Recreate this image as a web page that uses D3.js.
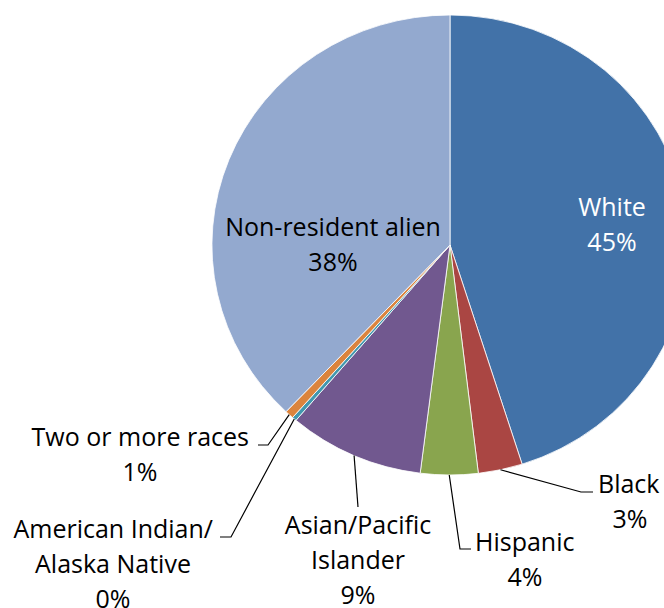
<!DOCTYPE html>
<html>
<head>
<meta charset="utf-8">
<script src="https://cdn.jsdelivr.net/npm/d3@7"></script>
<style>
  body { margin: 0; background: #fff; }
  svg text { font-family: "Open Sans", "Noto Sans", sans-serif; }
</style>
</head>
<body>
<svg id="chart"></svg>
<script>
// data (share of total, %)
const categories = ["White", "Black", "Hispanic", "Asian/Pacific Islander",
    "American Indian/ Alaska Native", "Two or more races", "Non-resident alien"];
const values = [45.1, 3.0, 3.9, 9.2, 0.3, 0.6, 37.9];
const percentLabels = ["45%", "3%", "4%", "9%", "0%", "1%", "38%"];
const labelLines = [
    ["White"], ["Black"], ["Hispanic"], ["Asian/Pacific", "Islander"],
    ["American Indian/", "Alaska Native"], ["Two or more races"], ["Non-resident alien"]
];
const colors = ["#4272A8", "#AA4643", "#89A54E", "#71588F", "#4198AF", "#DB843D", "#93A9CF"];

const width = 664, height = 608;
const cx = 450, cy = 245, radius = 230, stretchX = 1.035;
const fontSize = 25, lineH = 35;

const svg = d3.select("#chart").attr("width", width).attr("height", height);

const pie = d3.pie().sort(null).value(d => d.value);
const arcs = pie(categories.map((c, i) => ({name: c, value: values[i], i: i})));
const arc = d3.arc().innerRadius(0).outerRadius(radius);

const pieG = svg.append("g")
    .attr("transform", `translate(${cx},${cy}) scale(${stretchX},1)`);

pieG.selectAll("path")
    .data(arcs)
    .enter()
    .append("path")
    .attr("d", arc)
    .attr("fill", d => colors[d.data.i])
    .attr("stroke", "#fff")
    .attr("stroke-width", 0.8)
    .attr("vector-effect", "non-scaling-stroke");

// point on the rim at the middle of a slice, in page coords
function rimPoint(d) {
    const a = (d.startAngle + d.endAngle) / 2;
    return [cx + Math.sin(a) * radius * stretchX, cy - Math.cos(a) * radius];
}

// label layout: inside labels get a centre, outside labels get leader + text anchor
const layout = [
    {type: "in", x: 612, y: 216, fill: "#fff"},
    {type: "out", bend: [581, 492], end: [593, 492], x: 630, y: 493, anchor: "middle", firstAnchor: "start", firstX: 598},
    {type: "out", bend: [460, 549], end: [471, 549], x: 525, y: 551, anchor: "middle", firstAnchor: "start", firstX: 475},
    {type: "out", bend: null, end: [358, 507], x: 358, y: 534, anchor: "middle"},
    {type: "out", bend: [231, 537], end: [220, 537], x: 113, y: 538, anchor: "middle", firstAnchor: "end", firstX: 213},
    {type: "out", bend: [268, 445], end: [258, 445], x: 140, y: 446, anchor: "middle", firstAnchor: "end", firstX: 249},
    {type: "in", x: 333, y: 236, fill: "#000"}
];

arcs.forEach((d, k) => {
    const L = layout[k];
    const lines = labelLines[k].concat([percentLabels[k]]);
    if (L.type === "out") {
        const p0 = rimPoint(d);
        const pts = [p0];
        if (L.bend) pts.push(L.bend);
        pts.push(L.end);
        svg.append("path")
            .attr("d", d3.line()(pts))
            .attr("fill", "none")
            .attr("stroke", "#000")
            .attr("stroke-width", 1.2);
    }
    const t = svg.append("text")
        .attr("font-size", fontSize)
        .attr("fill", L.fill || "#000");
    lines.forEach((s, j) => {
        const first = j === 0 && L.firstAnchor;
        t.append("tspan")
            .attr("x", first ? L.firstX : L.x)
            .attr("y", L.y + j * lineH)
            .attr("text-anchor", first ? L.firstAnchor : (L.anchor || "middle"))
            .text(s);
    });
});
</script>
</body>
</html>
